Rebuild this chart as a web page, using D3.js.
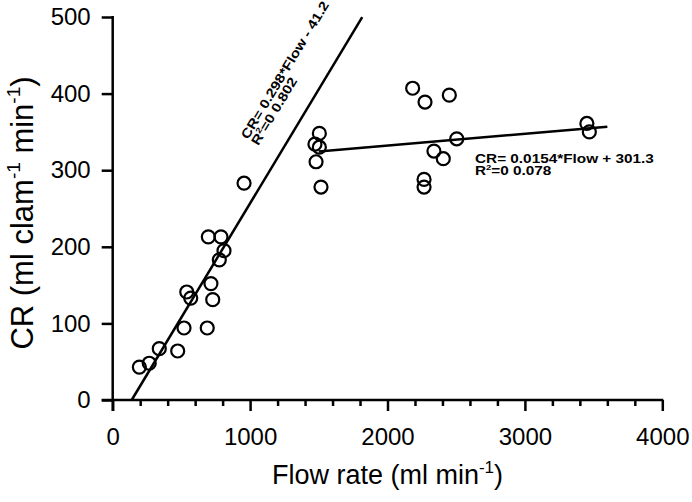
<!DOCTYPE html>
<html>
<head>
<meta charset="utf-8">
<script src="https://cdn.jsdelivr.net/npm/d3@7"></script>
<style>
  html, body { margin: 0; padding: 0; background: #fff; }
  svg { display: block; font-family: "Liberation Sans", Arial, sans-serif; }
</style>
</head>
<body>
<svg id="chart" width="692" height="502"></svg>
<script>
// ---- data ----
const flowLow = [194, 266, 339, 473, 519, 539, 568, 688, 696, 715, 728, 776, 788, 810, 956];
const crLow   = [ 43,  48,  67,  64,  94, 141, 133,  94, 213, 152, 131, 183, 213, 195, 283];
const flowHigh = [1504, 1472, 1504, 1480, 1516, 2183, 2273, 2450, 2504, 2338, 2406, 2266, 2266, 3451, 3469];
const crHigh   = [ 348,  334,  330,  311,  278,  407,  389,  398,  341,  325,  315,  288,  278,  361,  350];
const xTicks = [0, 1000, 2000, 3000, 4000];
const xMinorTicks = [200, 400, 600, 800, 1200, 1400, 1600, 1800, 2200, 2400, 2600, 2800, 3200, 3400, 3600, 3800];
const yTicks = [0, 100, 200, 300, 400, 500];
const fitLow  = { slope: 0.298,  intercept: -41.2, xStart: 138.3, xEnd: 1816 };
const fitHigh = { slope: 0.0154, intercept: 301.3, xStart: 1500,  xEnd: 3600 };
const eqLow  = ["CR= 0.298*Flow - 41.2", "0 0.802"];
const eqHigh = ["CR= 0.0154*Flow + 301.3", "0 0.078"];

// ---- chart ----
const svg = d3.select("#chart");
const x = d3.scaleLinear().domain([0, 4000]).range([112.7, 662.3]);
const y = d3.scaleLinear().domain([0, 500]).range([400, 17]);
const AX = 2.5;
const FONT = "'Liberation Sans', Arial, sans-serif";

// x axis
const xAxis = svg.append("g").attr("transform", `translate(0,${y(0)})`)
  .call(d3.axisBottom(x).tickValues(xTicks.concat(xMinorTicks)).tickSizeOuter(0).tickSizeInner(6)
        .tickFormat(d => xTicks.includes(d) ? d : ""));
xAxis.select(".domain").attr("stroke-width", AX).attr("d", `M${x(0)-11},0H${x(4000)+1}`);
xAxis.selectAll(".tick line").attr("stroke-width", AX)
  .attr("y2", d => xTicks.includes(d) ? 11 : 6);
xAxis.selectAll(".tick text").attr("y", 28).attr("font-size", 24)
  .attr("font-family", FONT).attr("fill", "#000");

// y axis
const yAxis = svg.append("g").attr("transform", `translate(${x(0)},0)`)
  .call(d3.axisLeft(y).tickValues(yTicks).tickSizeOuter(0).tickSizeInner(11));
yAxis.select(".domain").attr("stroke-width", AX).attr("d", `M0,${y(500)-1}V${y(0)+11}`);
yAxis.selectAll(".tick line").attr("stroke-width", AX);
yAxis.selectAll(".tick text").attr("x", -22).attr("font-size", 24)
  .attr("font-family", FONT).attr("fill", "#000");

// axis titles
const xt = svg.append("text").attr("x", (x(0) + x(4000)) / 2).attr("y", 484)
  .attr("text-anchor", "middle").attr("font-size", 27);
xt.append("tspan").text("Flow rate (ml min");
xt.append("tspan").attr("font-size", 17).attr("dy", -11).text("-1");
xt.append("tspan").attr("dy", 11).text(")");

const yt = svg.append("text").attr("transform", `translate(33,213) rotate(-90)`)
  .attr("text-anchor", "middle").attr("font-size", 31);
yt.append("tspan").text("CR (ml clam");
yt.append("tspan").attr("font-size", 19).attr("dy", -13).text("-1");
yt.append("tspan").attr("dy", 13).text(" min");
yt.append("tspan").attr("font-size", 19).attr("dy", -13).text("-1");
yt.append("tspan").attr("dy", 13).text(")");

// regression lines
[fitLow, fitHigh].forEach(f => {
  svg.append("line")
    .attr("x1", x(f.xStart)).attr("y1", y(f.slope * f.xStart + f.intercept))
    .attr("x2", x(f.xEnd)).attr("y2", y(f.slope * f.xEnd + f.intercept))
    .attr("stroke", "#000").attr("stroke-width", 2.5);
});

// points
const pts = flowLow.map((f, i) => ({ f, c: crLow[i] }))
  .concat(flowHigh.map((f, i) => ({ f, c: crHigh[i] })));
svg.append("g").selectAll("circle").data(pts).join("circle")
  .attr("cx", d => x(d.f)).attr("cy", d => y(d.c)).attr("r", 6.5)
  .attr("fill", "none").attr("stroke", "#000").attr("stroke-width", 2.2);

// equation labels
function eq(g, lines) {
  g.attr("font-size", 13).attr("font-weight", "bold");
  g.append("text").attr("x", 0).attr("y", 0).text(lines[0]);
  const t2 = g.append("text").attr("x", 0).attr("y", 12);
  t2.append("tspan").text("R");
  t2.append("tspan").attr("font-size", 8).attr("dy", -5).text("2");
  t2.append("tspan").attr("dy", 5).text("=" + lines[1]);
}
const angle = -Math.atan2(y(0) - y(500), x(fitLow.xEnd) - x(fitLow.xStart)) * 180 / Math.PI;
eq(svg.append("g").attr("transform", `translate(248,140) rotate(${angle}) scale(1.18,1)`), eqLow);
eq(svg.append("g").attr("transform", `translate(475,163.3) scale(1.18,1)`), eqHigh);
</script>
</body>
</html>
